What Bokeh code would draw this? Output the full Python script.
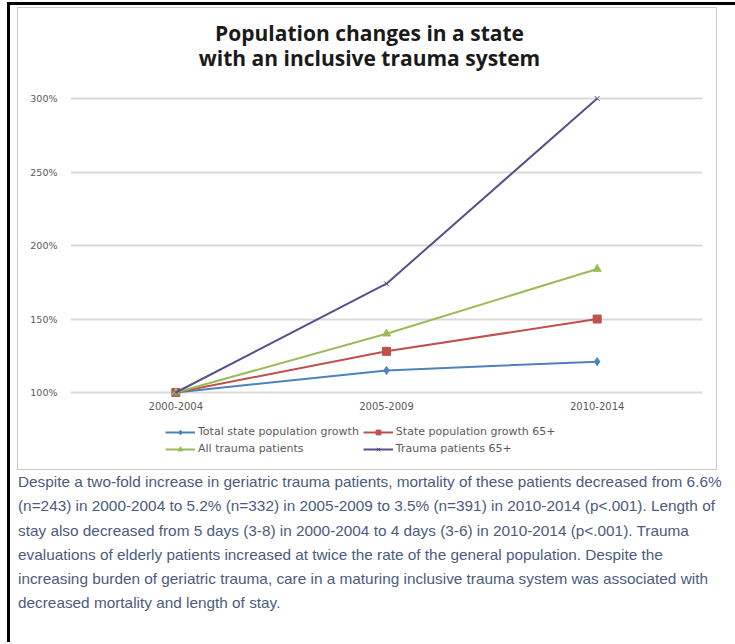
from bokeh.plotting import figure
from bokeh.layouts import column
from bokeh.models import (Range1d, FactorRange, Label, Legend, LegendItem, Div,
                          PrintfTickFormatter, FixedTicker, ColumnDataSource)
from bokeh.embed import file_html
from bokeh.resources import INLINE

# ---- data ----
periods = ["2000-2004", "2005-2009", "2010-2014"]
total_state_growth = [100, 115, 121]
state_growth_65 = [100, 128, 150]
all_trauma = [100, 140, 184]
trauma_65 = [100, 174, 300]
series_names = ["Total state population growth", "State population growth 65+",
                "All trauma patients", "Trauma patients 65+"]
y_ticks = [100, 150, 200, 250, 300]

title_lines = ["Population changes in a state", "with an inclusive trauma system"]
paragraph = [
    "Despite a two-fold increase in geriatric trauma patients, mortality of these patients decreased from 6.6%",
    "(n=243) in 2000-2004  to 5.2% (n=332) in 2005-2009  to 3.5% (n=391) in 2010-2014  (p<.001).  Length of",
    "stay also decreased from 5 days (3-8) in 2000-2004  to 4 days (3-6) in 2010-2014  (p<.001). Trauma",
    "evaluations of elderly patients increased at twice the rate of the general population. Despite the",
    "increasing burden of geriatric trauma, care in a maturing inclusive trauma system was associated with",
    "decreased mortality and length of stay.",
]

# ---- layout (page px) ----
CX0, CY0 = 18, 8              # chart canvas origin on page
CW = 698
FL, FR, FT, FB = 70, 702, 8, 398   # frame edges, page px
AXB = 418                     # bottom of chart canvas (below x labels)
BOXB = 469                    # bottom of grey chart box
Y100, Y300 = 392, 98
ppu = (Y100 - Y300) / 200.0
y_start = 100 - (FB - Y100) / ppu
y_end = 300 + (Y300 - FT) / ppu

p = figure(width=CW, height=AXB - CY0, x_range=FactorRange(*periods),
           y_range=Range1d(y_start, y_end),
           output_backend="svg", toolbar_location=None,
           min_border_left=FL - CX0, min_border_right=CX0 + CW - FR,
           min_border_top=FT - CY0, min_border_bottom=AXB - FB)
p.outline_line_color = None
p.background_fill_color = "white"
p.border_fill_color = "white"

p.xgrid.grid_line_color = None
p.ygrid.ticker = FixedTicker(ticks=y_ticks)
p.ygrid.grid_line_color = "#d9d9d9"
p.ygrid.grid_line_width = 2

p.yaxis.ticker = FixedTicker(ticks=y_ticks)
p.yaxis.formatter = PrintfTickFormatter(format="%d%%")
for ax in (p.xaxis[0], p.yaxis[0]):
    ax.axis_line_color = None
    ax.major_tick_line_color = None
    ax.minor_tick_line_color = None
    ax.major_tick_out = 0
    ax.major_tick_in = 0
    ax.major_label_text_font = "DejaVu Sans"
    ax.major_label_text_color = "#5a5a5a"
p.yaxis.major_label_text_font_size = "9.5px"
p.xaxis.major_label_text_font_size = "10px"
p.yaxis.major_label_standoff = 13
p.xaxis.major_label_standoff = 3

colors = ["#4f81bd", "#c0504d", "#9bbb59", "#56508a"]
values = [total_state_growth, state_growth_65, all_trauma, trauma_65]
markers = ["diamond", "square", "triangle", "x"]
msizes = [8, 8, 8, 7]

sources = []
for vals, col, mk, ms in zip(values, colors, markers, msizes):
    src = ColumnDataSource(dict(x=periods, y=vals))
    sources.append(src)
    p.line("x", "y", source=src, line_color=col, line_width=2)
    p.scatter("x", "y", source=src, marker=mk, size=ms, fill_color=col, line_color=col)

# title lines inside the (tall) frame, screen units relative to the frame
for i, t in enumerate(title_lines):
    p.add_layout(Label(x=369 - FL, y=FB - (32 + 25 * i), x_units="screen", y_units="screen", text=t,
                       text_align="center", text_baseline="middle", text_font="Open Sans",
                       text_font_style="bold", text_font_size="21px", text_color="#1a1a1a"))

# ---- legend strip (same frame edges as the chart; series drawn out of view) ----
LH = BOXB - AXB
lg = figure(width=CW, height=LH, x_range=FactorRange(*periods), y_range=Range1d(-20, -10),
            x_axis_type=None, y_axis_type=None, output_backend="svg", toolbar_location=None,
            min_border_left=FL - CX0, min_border_right=CX0 + CW - FR,
            min_border_top=0, min_border_bottom=0)
lg.outline_line_color = None
lg.grid.visible = False
items = []
for name, src, col, mk, ms in zip(series_names, sources, colors, markers, msizes):
    r1 = lg.line("x", "y", source=src, line_color=col, line_width=2)
    r2 = lg.scatter("x", "y", source=src, marker=mk, size=ms, fill_color=col, line_color=col)
    items.append(LegendItem(label=name, renderers=[r1, r2]))
items = [items[0], items[2], items[1], items[3]]   # row-wise reading order in 2 columns
row1, row2, rowh = 433, 449, 12
legend = Legend(items=items, ncols=2,
                location=(165 - FL, LH - (row2 + rowh / 2 - AXB)),
                glyph_width=30, glyph_height=rowh, label_height=rowh, label_standoff=3,
                spacing=row2 - row1 - rowh, padding=0, margin=0, border_line_color=None,
                background_fill_alpha=0,
                label_text_font="DejaVu Sans", label_text_font_size="11px",
                label_text_color="#5a5a5a")
lg.add_layout(legend, "center")

chart_box = column(p, lg, spacing=0, margin=(2, 0, 0, 7),
                   styles={"border": "1px solid #cbcbcb"})

# ---- paragraph ----
para = Div(text="<br>".join(paragraph), width=725, height=644 - 472, margin=(0, 0, 0, 0),
           styles={"font-family": "'Liberation Sans', Arial, sans-serif", "font-size": "15.35px",
                   "line-height": "24.3px", "color": "#4b5b7e", "white-space": "nowrap",
                   "padding-left": "8px", "padding-top": "0px"})

root = column(chart_box, para, spacing=0, margin=(2, 0, 0, 7),
              styles={"border-left": "3px solid black", "border-top": "3px solid black"})

open("out.html", "w").write(file_html(root, INLINE))
